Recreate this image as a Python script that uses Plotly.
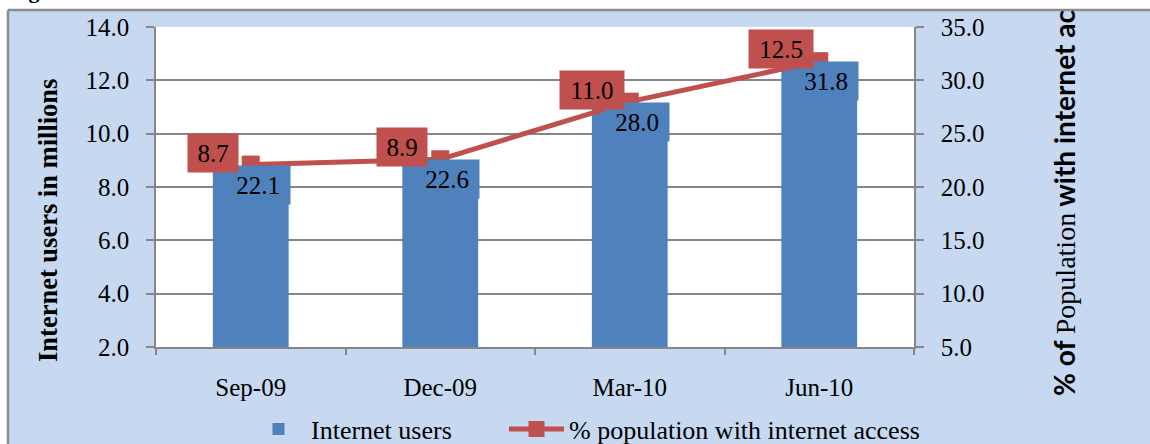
import plotly.graph_objects as go

# ---- data ----
categories = ["Sep-09", "Dec-09", "Mar-10", "Jun-10"]
internet_users = [8.7, 8.9, 11.0, 12.5]          # millions (left axis)
pct_population = [22.1, 22.6, 28.0, 31.8]        # % population (right axis)
left_ticks = [2.0, 4.0, 6.0, 8.0, 10.0, 12.0, 14.0]
right_ticks = [5.0, 10.0, 15.0, 20.0, 25.0, 30.0, 35.0]

# ---- style ----
W, H = 1150, 444
L, R, T, B = 156, 914, 27, 347
BLUE = "#4F81BD"
RED = "#C0504D"
BG = "#C6D9F1"
GRID = "#868686"
SERIF = "Liberation Serif, Times New Roman, serif"


def px(xp):
    return (xp - L) / (R - L)


def py(yp):
    return (B - yp) / (B - T)


fig = go.Figure()
fig.add_trace(go.Bar(
    x=categories, y=internet_users, name="Internet users",
    marker=dict(color=BLUE, line=dict(width=0)), width=0.4,
    yaxis="y", legend="legend",
))
fig.add_trace(go.Scatter(
    x=categories, y=pct_population, name="% population with internet access",
    mode="lines+markers", yaxis="y2", legend="legend2",
    line=dict(color=RED, width=5),
    marker=dict(symbol="square", size=18, color=RED),
))

annotations = []
# blue labels (percentage values) then red labels (user values) on top
for c, p in zip(categories, pct_population):
    t = f"{p:.1f}"
    annotations.append(dict(
        x=c, y=p, xref="x", yref="y2", text=t, showarrow=False,
        xshift=7, yshift=-20, bgcolor=BLUE, borderpad=3,
        width=44 if len(t) == 3 else 58, height=32,
        font=dict(family=SERIF, size=25, color="black"),
    ))
for c, p, u in zip(categories, pct_population, internet_users):
    t = f"{u:.1f}"
    annotations.append(dict(
        x=c, y=p, xref="x", yref="y2", text=t, showarrow=False,
        xshift=-38, yshift=12, bgcolor=RED, borderpad=3,
        width=44 if len(t) == 3 else 58, height=32,
        font=dict(family=SERIF, size=25, color="black"),
    ))

# axis titles
annotations.append(dict(
    x=px(48), y=py(220), xref="paper", yref="paper",
    text="<b>Internet users in millions</b>", textangle=-90,
    showarrow=False, xanchor="center", yanchor="middle",
    font=dict(family=SERIF, size=26.5, color="black"),
))
annotations.append(dict(
    x=px(1064), y=py(398), xref="paper", yref="paper",
    text=("<b>% of </b><span style=\"font-family:'Liberation Serif'\">Population</span>"
          "<b> with internet ac</b>"),
    textangle=-90, showarrow=False, xanchor="center", yanchor="bottom",
    font=dict(family="Lato, sans-serif", size=28, color="black"),
))
# cropped caption above the chart frame
annotations.append(dict(
    x=px(7), y=py(5), xref="paper", yref="paper",
    text="<b>Figure</b>", showarrow=False, xanchor="left", yanchor="bottom",
    font=dict(family=SERIF, size=22, color="black"),
))

shapes = [
    # white area outside chart frame
    dict(type="rect", xref="paper", yref="paper", x0=px(-5), x1=px(W + 5),
         y0=py(10), y1=py(-5), fillcolor="white", line=dict(width=0), layer="below"),
    dict(type="rect", xref="paper", yref="paper", x0=px(-5), x1=px(8),
         y0=py(H + 5), y1=py(-5), fillcolor="white", line=dict(width=0), layer="below"),
    # frame border
    dict(type="line", xref="paper", yref="paper", x0=px(8), x1=px(W + 5),
         y0=py(10), y1=py(10), line=dict(color="#8C8C8C", width=2.5)),
    dict(type="line", xref="paper", yref="paper", x0=px(8), x1=px(8),
         y0=py(10), y1=py(H + 5), line=dict(color="#8C8C8C", width=2.5)),
]

axis_font = dict(family=SERIF, size=25, color="black")
legend_font = dict(family=SERIF, size=26, color="black")
fig.update_layout(
    width=W, height=H,
    margin=dict(l=L, r=W - R, t=T, b=H - B, pad=0, autoexpand=False),
    paper_bgcolor=BG, plot_bgcolor="white",
    showlegend=True,
    legend=dict(orientation="h", x=px(246), y=py(429), xanchor="left", yanchor="middle",
                font=legend_font, bgcolor="rgba(0,0,0,0)", itemwidth=55),
    legend2=dict(orientation="h", x=px(504), y=py(429), xanchor="left", yanchor="middle",
                 font=legend_font, bgcolor="rgba(0,0,0,0)", itemwidth=55),
    xaxis=dict(type="category", showgrid=False, ticks="outside", tickson="boundaries",
               ticklen=6, tickcolor=GRID, tickwidth=1.5, showline=True, linecolor=GRID,
               linewidth=1.5, tickfont=axis_font, ticklabelstandoff=17),
    yaxis=dict(range=[2, 14], tickvals=left_ticks, tickformat=".1f", showgrid=True,
               gridcolor=GRID, gridwidth=1.5, zeroline=False, showline=True,
               linecolor=GRID, linewidth=1.5, ticks="outside", ticklen=8,
               tickcolor=GRID, tickwidth=1.5, tickfont=axis_font, ticklabelstandoff=12),
    yaxis2=dict(range=[5, 35], tickvals=right_ticks, tickformat=".1f", overlaying="y",
                side="right", showgrid=False, zeroline=False, showline=True,
                linecolor=GRID, linewidth=1.5, ticks="outside", ticklen=8,
                tickcolor=GRID, tickwidth=1.5, tickfont=axis_font, ticklabelstandoff=12),
    annotations=annotations,
    shapes=shapes,
)

fig.write_html(
    "out.html",
    config={"displayModeBar": False},
    post_script="document.body.style.margin='0';document.body.style.overflow='hidden';",
)
